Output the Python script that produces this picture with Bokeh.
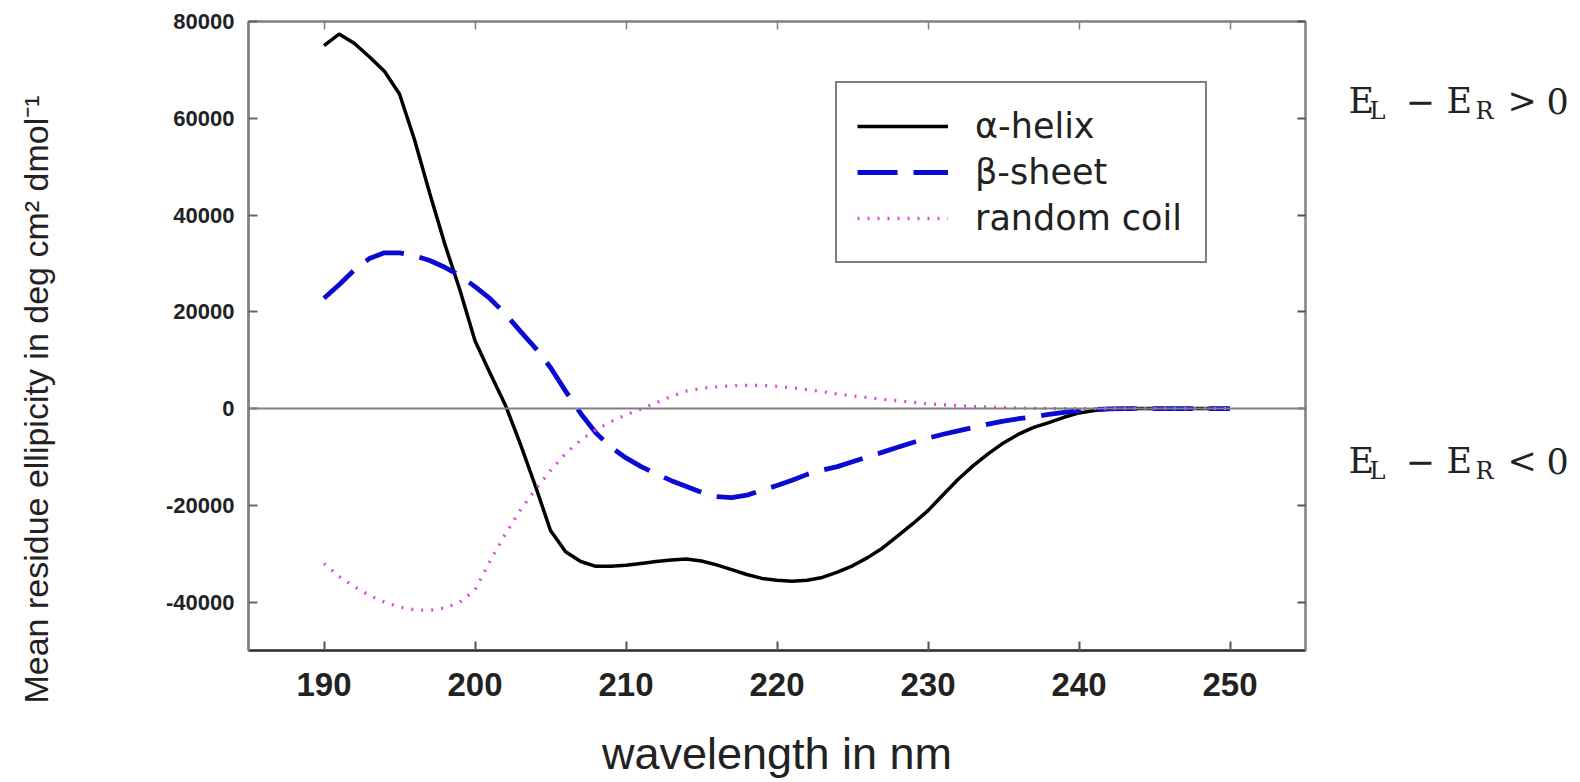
import math
from bokeh.plotting import figure
from bokeh.layouts import row
from bokeh.models import Range1d, FixedTicker, LinearAxis, Span
from bokeh.core.properties import value
from bokeh.embed import file_html
from bokeh.resources import INLINE

# ---------------- data ----------------
wavelength = list(range(190, 251))

alpha_helix = [75000, 77400, 75500, 72700, 69700, 65000, 55500, 44500, 34000, 24500,
               14000, 7300, 800, -7300, -16000, -25200, -29600, -31600, -32600, -32600,
               -32400, -32000, -31600, -31300, -31100, -31500, -32300, -33300, -34300, -35100,
               -35500, -35700, -35500, -34900, -33800, -32500, -30800, -28800, -26300, -23800,
               -21100, -17800, -14600, -11800, -9300, -7100, -5300, -3900, -2900, -1800,
               -900, -400, -150, -50, 0, 0, 0, 0, 0, 0, 0]

beta_sheet = [22800, 25600, 28600, 31000, 32200, 32200, 31600, 30600, 29200, 27500,
              25200, 22700, 19600, 16000, 12500, 8500, 3600, -1000, -5000, -8000,
              -10200, -12000, -13500, -14900, -16100, -17300, -18200, -18400, -17900, -16900,
              -15900, -14800, -13600, -12700, -12000, -11000, -10000, -9000, -8000, -7000,
              -6100, -5300, -4600, -3900, -3200, -2600, -2100, -1700, -1200, -800,
              -400, -200, -50, 0, 0, 0, 0, 0, 0, 0, 0]

random_coil = [-32000, -34700, -36800, -38600, -40000, -41000, -41600, -41700, -41200, -40000,
               -37500, -31500, -26000, -21000, -16700, -12800, -9300, -6500, -4400, -2700,
               -1300, -100, 1200, 2500, 3600, 4200, 4500, 4700, 4800, 4800,
               4600, 4300, 3900, 3500, 3000, 2600, 2300, 1900, 1600, 1300,
               1000, 800, 600, 450, 300, 200, 120, 60, 20, 0,
               0, 0, 0, 0, 0, 0, 0, 0, 0, 0, 0]

series_names = ["α-helix", "β-sheet", "random coil"]
x_ticks = [190, 200, 210, 220, 230, 240, 250]
y_ticks = [-40000, -20000, 0, 20000, 40000, 60000, 80000]
x_title = "wavelength in nm"
y_title = "Mean residue ellipicity in deg cm² dmol⁻¹"
expr_main = [["E", "−", "E", ">", "0"], ["E", "−", "E", "<", "0"]]
expr_sub = [["L", "R"], ["L", "R"]]

# ---------------- fonts / layout constants ----------------
SANS = "'Liberation Sans', Arial, sans-serif"
WIDE = "'DejaVu Sans', sans-serif"
SERIF = "'DejaVu Serif', 'Liberation Serif', serif"
H = 782
LEFT_W = 70            # strip holding the y title
MAIN_W = 1309 - LEFT_W # main figure, frame from x=248 to x=1305
RIGHT_W = 1580 - 1309  # strip holding the E_L - E_R annotations


def no_align(f):
    try:
        f.frame_align = False
    except Exception:
        pass


def blank(width):
    f = figure(width=width, height=H, x_range=Range1d(0, width), y_range=Range1d(0, H),
               output_backend="svg", toolbar_location=None,
               x_axis_type=None, y_axis_type=None, min_border=0)
    f.xgrid.visible = False
    f.ygrid.visible = False
    f.outline_line_color = None
    f.background_fill_color = "white"
    f.border_fill_color = "white"
    no_align(f)
    return f


# ---------------- left strip: y title ----------------
pa = blank(LEFT_W)
pa.text(x=[35], y=[H - 399], text=[y_title], angle=math.pi / 2,
        text_align="center", text_baseline="middle",
        text_font=value(SANS), text_font_size="34px", text_color="#222222")

# ---------------- main figure ----------------
p = figure(width=MAIN_W, height=H,
           x_range=Range1d(185, 255), y_range=Range1d(-50000, 80000),
           output_backend="svg", toolbar_location=None,
           min_border_left=248 - LEFT_W, min_border_right=4,
           min_border_top=21, min_border_bottom=132)
no_align(p)
p.xgrid.visible = False
p.ygrid.visible = False
p.outline_line_color = "#808080"
p.outline_line_width = 2
p.background_fill_color = "white"
p.border_fill_color = "white"

xa = p.xaxis[0]
xa.ticker = FixedTicker(ticks=x_ticks)
xa.major_tick_in = 9
xa.major_tick_out = 0
xa.minor_tick_line_color = None
xa.axis_line_color = "#333333"
xa.axis_line_width = 2.5
xa.major_tick_line_color = "#555555"
xa.major_tick_line_width = 2
xa.major_label_text_font = SANS
xa.major_label_text_font_style = "bold"
xa.major_label_text_font_size = "33px"
xa.major_label_text_color = "#222222"
xa.major_label_standoff = 22
xa.axis_label = x_title
xa.axis_label_text_font = SANS
xa.axis_label_text_font_style = "normal"
xa.axis_label_text_font_size = "45px"
xa.axis_label_text_color = "#222222"
xa.axis_label_standoff = 29

ya = p.yaxis[0]
ya.ticker = FixedTicker(ticks=y_ticks)
ya.major_label_overrides = {v: str(v) for v in y_ticks}
ya.major_tick_in = 9
ya.major_tick_out = 0
ya.minor_tick_line_color = None
ya.axis_line_color = "#808080"
ya.axis_line_width = 2.5
ya.major_tick_line_color = "#666666"
ya.major_tick_line_width = 2
ya.major_label_text_font = SANS
ya.major_label_text_font_style = "bold"
ya.major_label_text_font_size = "22px"
ya.major_label_text_color = "#222222"
ya.major_label_standoff = 14

top_axis = LinearAxis(ticker=FixedTicker(ticks=x_ticks), major_tick_in=8, major_tick_out=0,
                      minor_tick_line_color=None, major_label_text_font_size="1px",
                      major_label_text_color=None, major_label_standoff=0,
                      axis_line_color="#808080", axis_line_width=2,
                      major_tick_line_color="#808080", major_tick_line_width=1.5)
p.add_layout(top_axis, "above")
right_axis = LinearAxis(ticker=FixedTicker(ticks=y_ticks), major_tick_in=8, major_tick_out=0,
                        minor_tick_line_color=None, major_label_text_font_size="1px",
                        major_label_text_color=None, major_label_standoff=0,
                        axis_line_color="#808080", axis_line_width=2,
                        major_tick_line_color="#555555", major_tick_line_width=2)
p.add_layout(right_axis, "right")

p.add_layout(Span(location=0, dimension="width", line_color="#808080", line_width=2))

p.line(wavelength, alpha_helix, line_color="black", line_width=3.5, legend_label=series_names[0])
p.line(wavelength, beta_sheet, line_color="#0a0ad2", line_width=4.8, line_dash="40 16",
       legend_label=series_names[1])
p.line(wavelength, random_coil, line_color="#dc48dc", line_width=3.3, line_dash="2 8",
       legend_label=series_names[2])

lg = p.legend[0]
lg.location = (587, 387)
lg.border_line_color = "black"
lg.border_line_width = 2
lg.background_fill_color = "white"
lg.background_fill_alpha = 1
lg.padding = 20
lg.margin = 0
lg.spacing = 0
lg.glyph_width = 91
lg.glyph_height = 46
lg.label_height = 46
lg.label_width = 210
lg.label_standoff = 27
lg.label_text_font = WIDE
lg.label_text_font_size = "35px"
lg.label_text_color = "#222222"
lg.label_text_baseline = "middle"

# ---------------- right strip: E_L - E_R annotations ----------------
pc = blank(RIGHT_W)
main_x = [39, 96, 137, 198, 237]
sub_x = [60, 166]
for k, base in enumerate([H - 100, H - 460]):
    pc.text(x=main_x, y=[base] * len(main_x), text=expr_main[k],
            text_align="left", text_baseline="alphabetic",
            text_font=value(SERIF), text_font_size="35px", text_color="#222222")
    pc.text(x=sub_x, y=[base - 10] * len(sub_x), text=expr_sub[k],
            text_align="left", text_baseline="alphabetic",
            text_font=value(SERIF), text_font_size="24px", text_color="#222222")

layout = row(pa, p, pc)
open("out.html", "w").write(file_html(layout, INLINE))
